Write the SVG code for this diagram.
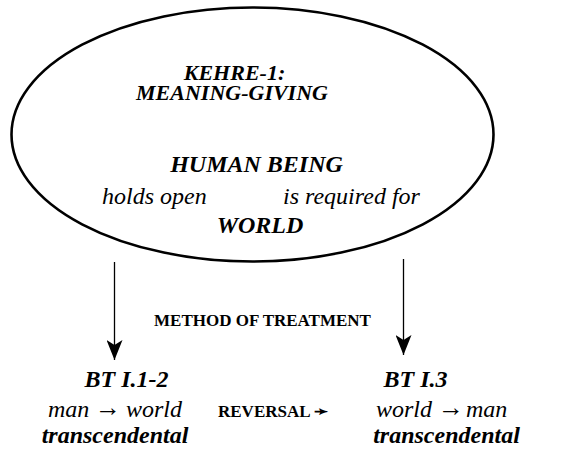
<svg xmlns="http://www.w3.org/2000/svg" width="574" height="457" viewBox="0 0 574 457">
<defs>
<marker id="ah" viewBox="0 0 20 16" refX="20" refY="8" markerWidth="20" markerHeight="16" markerUnits="userSpaceOnUse" orient="auto">
<path d="M0,0 L20,8 L0,16 L5,8 Z" fill="#000"/>
</marker>
</defs>
<rect width="574" height="457" fill="#fff"/>
<g id="ellipse-node">
<ellipse cx="252.5" cy="134.5" rx="241" ry="127" fill="none" stroke="#000" stroke-width="2.6"/>
<text style="font-family:'Liberation Serif',serif;font-weight:bold;font-style:italic;font-size:22px;text-anchor:middle" x="234.5" y="80">KEHRE-1:</text>
<text style="font-family:'Liberation Serif',serif;font-weight:bold;font-style:italic;font-size:22px;text-anchor:middle" x="232" y="100">MEANING-GIVING</text>
<text style="font-family:'Liberation Serif',serif;font-weight:bold;font-style:italic;font-size:24px;text-anchor:middle" x="256.5" y="172">HUMAN BEING</text>
<text style="font-family:'Liberation Serif',serif;font-style:italic;font-size:24px" x="102" y="204">holds open</text>
<text style="font-family:'Liberation Serif',serif;font-style:italic;font-size:24px" x="283" y="204">is required for</text>
<text style="font-family:'Liberation Serif',serif;font-weight:bold;font-style:italic;font-size:24px;text-anchor:middle" x="260" y="233">WORLD</text>
</g>
<g id="connectors">
<line stroke="#000" stroke-width="1.3" x1="114.5" y1="262" x2="114.5" y2="360" marker-end="url(#ah)"/>
<line stroke="#000" stroke-width="1.3" x1="403.5" y1="259" x2="403.5" y2="355" marker-end="url(#ah)"/>
<text style="font-family:'Liberation Serif',serif;font-weight:bold;font-size:17px;text-anchor:middle" x="262.5" y="326">METHOD OF TREATMENT</text>
<text style="font-family:'Liberation Serif',serif;font-weight:bold;font-size:17px" x="218" y="417">REVERSAL ➛</text>
</g>
<g id="bt12">
<text style="font-family:'Liberation Serif',serif;font-weight:bold;font-style:italic;font-size:24px;text-anchor:middle" x="126.5" y="387">BT I.1-2</text>
<text style="font-family:'Liberation Serif',serif;font-style:italic;font-size:24px" x="48" y="417">man</text>
<text style="font-family:'Liberation Serif',serif;font-weight:bold;font-size:26px" x="95" y="416">→</text>
<text style="font-family:'Liberation Serif',serif;font-style:italic;font-size:24px" x="126" y="417">world</text>
<text style="font-family:'Liberation Serif',serif;font-weight:bold;font-style:italic;font-size:24px;text-anchor:middle" x="115" y="443">transcendental</text>
</g>
<g id="bt13">
<text style="font-family:'Liberation Serif',serif;font-weight:bold;font-style:italic;font-size:24px;text-anchor:middle" x="415.5" y="387">BT I.3</text>
<text style="font-family:'Liberation Serif',serif;font-style:italic;font-size:24px" x="376" y="417">world</text>
<text style="font-family:'Liberation Serif',serif;font-weight:bold;font-size:26px" x="438" y="416">→</text>
<text style="font-family:'Liberation Serif',serif;font-style:italic;font-size:24px" x="466" y="417">man</text>
<text style="font-family:'Liberation Serif',serif;font-weight:bold;font-style:italic;font-size:24px;text-anchor:middle" x="446.5" y="443">transcendental</text>
</g>
</svg>
